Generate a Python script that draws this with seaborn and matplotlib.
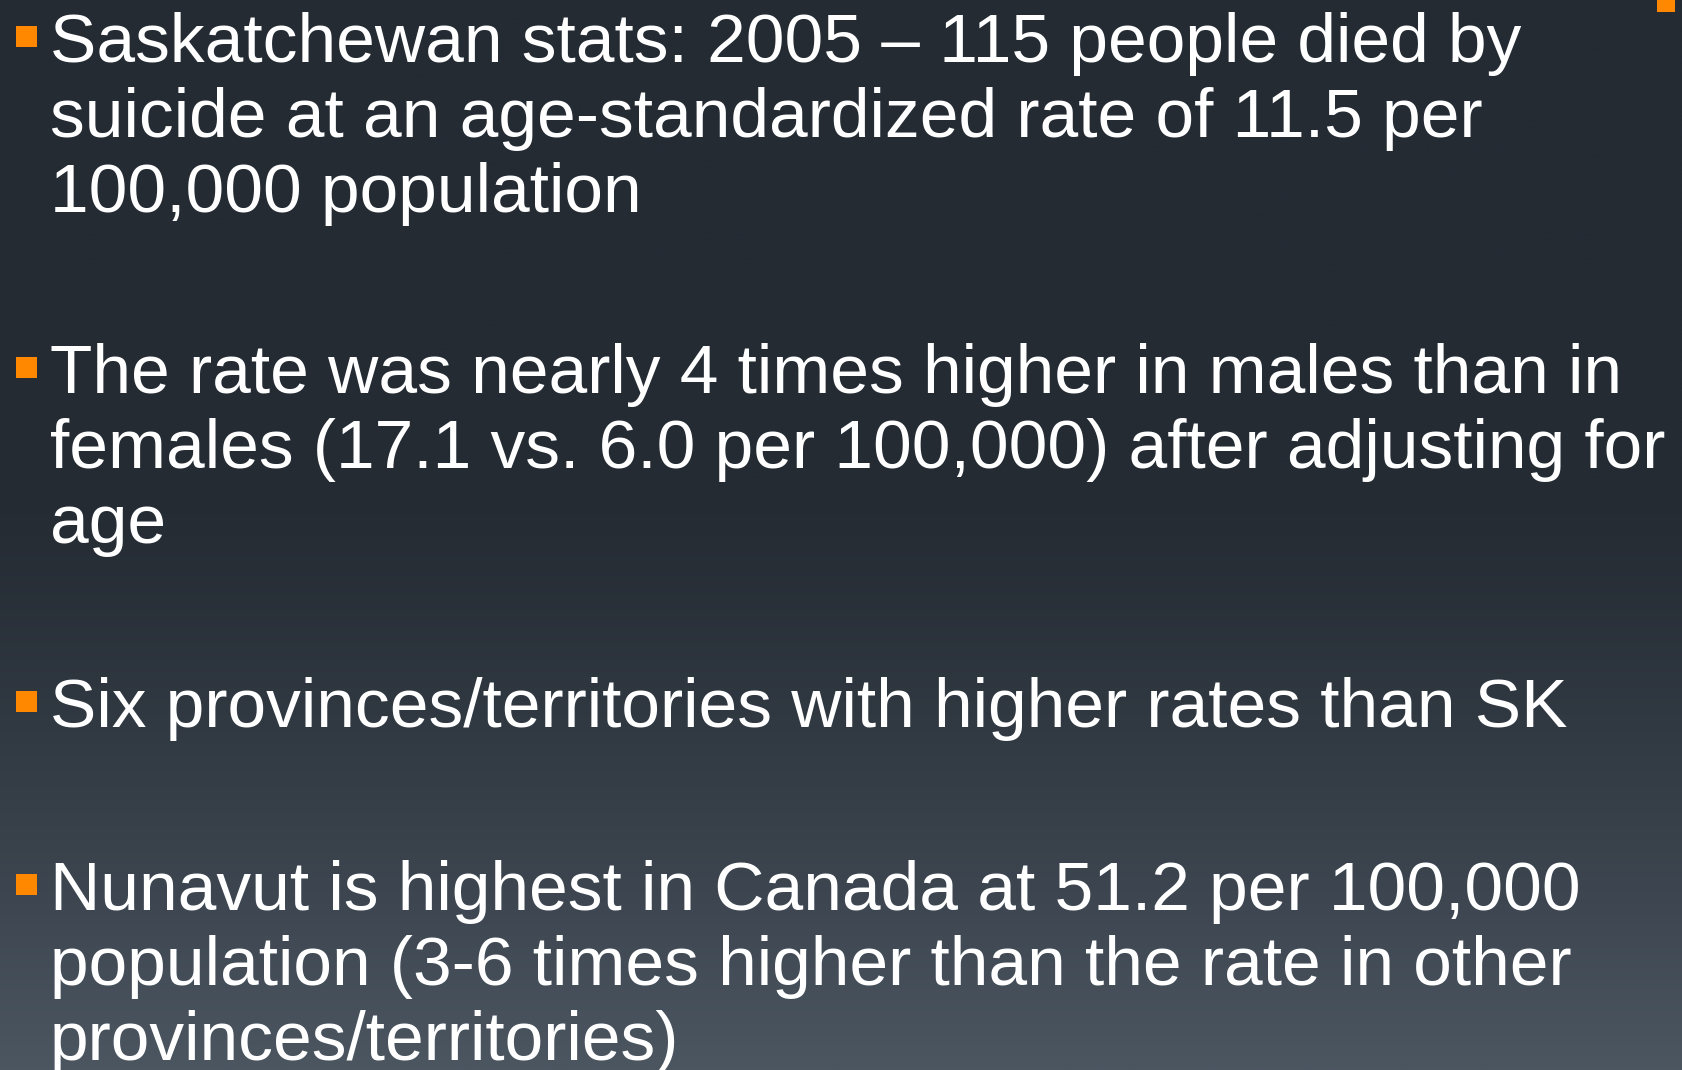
import numpy as np
import matplotlib
matplotlib.use("Agg")
import matplotlib.pyplot as plt
import seaborn as sns

# ---- content ----
bullet_1 = ["Saskatchewan stats: 2005 \u2013 115 people died by",
            "suicide at an age-standardized rate of 11.5 per",
            "100,000 population"]
bullet_2 = ["The rate was nearly 4 times higher in males than in",
            "females (17.1 vs. 6.0 per 100,000) after adjusting for",
            "age"]
bullet_3 = ["Six provinces/territories with higher rates than SK"]
bullet_4 = ["Nunavut is highest in Canada at 51.2 per 100,000",
            "population (3-6 times higher than the rate in other",
            "provinces/territories)"]
bullets = [bullet_1, bullet_2, bullet_3, bullet_4]
first_baselines = [62, 393, 727, 910]   # px from top

sns.set_theme(style="dark")
plt.rcParams['font.family'] = ['Liberation Sans', 'DejaVu Sans']

W, H = 1683, 1070
fig = plt.figure(figsize=(W / 100, H / 100), dpi=100)
ax = fig.add_axes([0, 0, 1, 1])
ax.set_xlim(0, W)
ax.set_ylim(H, 0)
ax.axis("off")

# background gradient
top = np.array([36, 43, 51]) / 255
bot = np.array([76, 86, 97]) / 255
y = np.linspace(0, 1, 400)
t = np.clip((y - 0.45) / 0.55, 0, 1) ** 1.3
grad = top[None, :] * (1 - t[:, None]) + bot[None, :] * t[:, None]
img = np.repeat(grad[:, None, :], 2, axis=1)
ax.imshow(img, extent=[0, W, H, 0], aspect="auto", zorder=0)

orange = "#FF8800"
line_h = 75
for lines, b0 in zip(bullets, first_baselines):
    ax.add_patch(plt.Rectangle((16, b0 - 36), 21, 21, color=orange, zorder=2, lw=0))
    for i, s in enumerate(lines):
        ax.text(50, b0 + i * line_h, s, color="white", fontsize=50,
                va="baseline", ha="left", zorder=3)

# top-right accent
ax.add_patch(plt.Rectangle((1657, 0), 18, 12, color=orange, zorder=2, lw=0))

fig.savefig("out.png", dpi=100)
